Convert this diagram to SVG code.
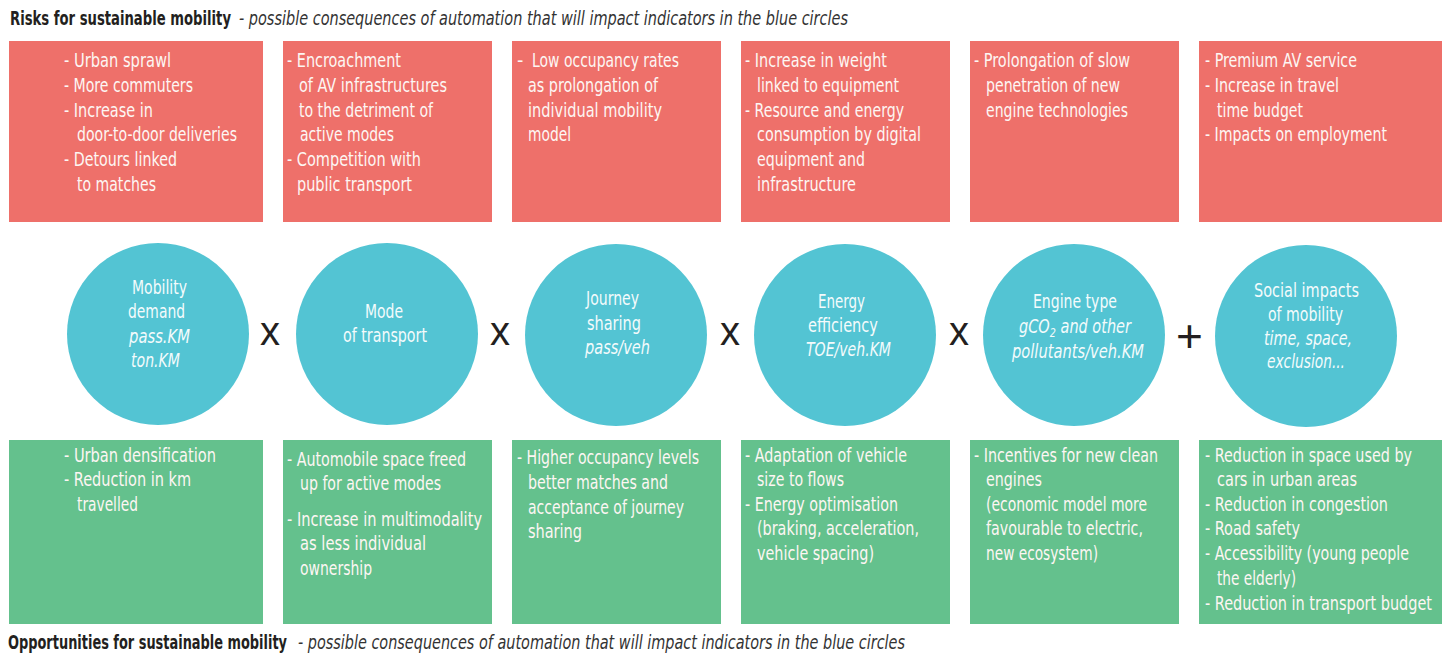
<svg xmlns="http://www.w3.org/2000/svg" width="1450" height="655" viewBox="0 0 1450 655">
<style>
text{font-family:"Liberation Sans Narrow","DejaVu Sans Condensed","Liberation Sans",sans-serif;}
.t{font-size:19.5px;fill:#fdf6f3;}
.c{font-size:19.5px;fill:#f4fbfc;}
.i{font-style:italic;}
.red{fill:#ee706a;}
.grn{fill:#64c18d;}
.blu{fill:#53c4d3;}
.op{font-family:"Liberation Sans",sans-serif;font-size:40px;fill:#231f20;}
.hb{font-size:19px;font-weight:bold;fill:#231f20;}
.hi{font-size:19px;font-style:italic;fill:#333333;}
</style>
<g id="title-top">
<text class="hb" x="10" y="25" textLength="221" lengthAdjust="spacingAndGlyphs">Risks for sustainable mobility</text>
<text class="hi" x="239" y="25" textLength="609" lengthAdjust="spacingAndGlyphs">- possible consequences of automation that will impact indicators in the blue circles</text>
</g>
<g id="risk1">
<rect class="red" x="9" y="41" width="254" height="181"/>
<text class="t" x="64" y="67" textLength="107" lengthAdjust="spacingAndGlyphs">- Urban sprawl</text>
<text class="t" x="64" y="92" textLength="129" lengthAdjust="spacingAndGlyphs">- More commuters</text>
<text class="t" x="64" y="117" textLength="89" lengthAdjust="spacingAndGlyphs">- Increase in</text>
<text class="t" x="77" y="141" textLength="160" lengthAdjust="spacingAndGlyphs">door-to-door deliveries</text>
<text class="t" x="64" y="166" textLength="113" lengthAdjust="spacingAndGlyphs">- Detours linked</text>
<text class="t" x="77" y="191" textLength="79" lengthAdjust="spacingAndGlyphs">to matches</text>
</g>
<g id="risk2">
<rect class="red" x="283" y="41" width="209" height="181"/>
<text class="t" x="287" y="67" textLength="114" lengthAdjust="spacingAndGlyphs">- Encroachment</text>
<text class="t" x="299" y="92" textLength="148" lengthAdjust="spacingAndGlyphs">of AV infrastructures</text>
<text class="t" x="299" y="117" textLength="134" lengthAdjust="spacingAndGlyphs">to the detriment of</text>
<text class="t" x="300" y="141" textLength="94" lengthAdjust="spacingAndGlyphs">active modes</text>
<text class="t" x="287" y="166" textLength="134" lengthAdjust="spacingAndGlyphs">- Competition with</text>
<text class="t" x="297" y="191" textLength="115" lengthAdjust="spacingAndGlyphs">public transport</text>
</g>
<g id="risk3">
<rect class="red" x="512" y="41" width="209" height="181"/>
<text class="t" x="517" y="67">-</text>
<text class="t" x="532" y="67" textLength="147" lengthAdjust="spacingAndGlyphs">Low occupancy rates</text>
<text class="t" x="528" y="92" textLength="130" lengthAdjust="spacingAndGlyphs">as prolongation of</text>
<text class="t" x="528" y="117" textLength="134" lengthAdjust="spacingAndGlyphs">individual mobility</text>
<text class="t" x="528" y="141" textLength="43" lengthAdjust="spacingAndGlyphs">model</text>
</g>
<g id="risk4">
<rect class="red" x="741" y="41" width="209" height="181"/>
<text class="t" x="745" y="67" textLength="142" lengthAdjust="spacingAndGlyphs">- Increase in weight</text>
<text class="t" x="757" y="92" textLength="142" lengthAdjust="spacingAndGlyphs">linked to equipment</text>
<text class="t" x="745" y="117" textLength="159" lengthAdjust="spacingAndGlyphs">- Resource and energy</text>
<text class="t" x="757" y="141" textLength="164" lengthAdjust="spacingAndGlyphs">consumption by digital</text>
<text class="t" x="757" y="166" textLength="108" lengthAdjust="spacingAndGlyphs">equipment and</text>
<text class="t" x="757" y="191" textLength="99" lengthAdjust="spacingAndGlyphs">infrastructure</text>
</g>
<g id="risk5">
<rect class="red" x="970" y="41" width="209" height="181"/>
<text class="t" x="974" y="67" textLength="156" lengthAdjust="spacingAndGlyphs">- Prolongation of slow</text>
<text class="t" x="986" y="92" textLength="134" lengthAdjust="spacingAndGlyphs">penetration of new</text>
<text class="t" x="986" y="117" textLength="142" lengthAdjust="spacingAndGlyphs">engine technologies</text>
</g>
<g id="risk6">
<rect class="red" x="1199" y="41" width="243" height="181"/>
<text class="t" x="1205" y="67" textLength="152" lengthAdjust="spacingAndGlyphs">- Premium AV service</text>
<text class="t" x="1205" y="92" textLength="134" lengthAdjust="spacingAndGlyphs">- Increase in travel</text>
<text class="t" x="1217" y="117" textLength="86" lengthAdjust="spacingAndGlyphs">time budget</text>
<text class="t" x="1205" y="141" textLength="182" lengthAdjust="spacingAndGlyphs">- Impacts on employment</text>
</g>
<g id="circle1">
<circle class="blu" cx="158" cy="334" r="91"/>
<text class="c" x="132" y="294" textLength="55" lengthAdjust="spacingAndGlyphs">Mobility</text>
<text class="c" x="128" y="318" textLength="57" lengthAdjust="spacingAndGlyphs">demand</text>
<text class="c i" x="129" y="343" textLength="61" lengthAdjust="spacingAndGlyphs">pass.KM</text>
<text class="c i" x="131" y="367" textLength="49" lengthAdjust="spacingAndGlyphs">ton.KM</text>
</g>
<g id="circle2">
<circle class="blu" cx="387" cy="334" r="91"/>
<text class="c" x="365" y="318" textLength="38" lengthAdjust="spacingAndGlyphs">Mode</text>
<text class="c" x="343" y="342" textLength="84" lengthAdjust="spacingAndGlyphs">of transport</text>
</g>
<g id="circle3">
<circle class="blu" cx="616" cy="335" r="91"/>
<text class="c" x="586" y="305" textLength="53" lengthAdjust="spacingAndGlyphs">Journey</text>
<text class="c" x="587" y="330" textLength="54" lengthAdjust="spacingAndGlyphs">sharing</text>
<text class="c i" x="585" y="354" textLength="65" lengthAdjust="spacingAndGlyphs">pass/veh</text>
</g>
<g id="circle4">
<circle class="blu" cx="845" cy="335" r="91"/>
<text class="c" x="818" y="308" textLength="47" lengthAdjust="spacingAndGlyphs">Energy</text>
<text class="c" x="808" y="332" textLength="70" lengthAdjust="spacingAndGlyphs">efficiency</text>
<text class="c i" x="806" y="356" textLength="85" lengthAdjust="spacingAndGlyphs">TOE/veh.KM</text>
</g>
<g id="circle5">
<circle class="blu" cx="1074" cy="335" r="91"/>
<text class="c" x="1033" y="308" textLength="84" lengthAdjust="spacingAndGlyphs">Engine type</text>
<text class="c i" x="1019" y="333" textLength="112" lengthAdjust="spacingAndGlyphs">gCO<tspan font-size="13" dy="4">2</tspan><tspan dy="-4"> and other</tspan></text>
<text class="c i" x="1012" y="358" textLength="132" lengthAdjust="spacingAndGlyphs">pollutants/veh.KM</text>
</g>
<g id="circle6">
<circle class="blu" cx="1306" cy="336" r="91"/>
<text class="c" x="1254" y="297" textLength="105" lengthAdjust="spacingAndGlyphs">Social impacts</text>
<text class="c" x="1268" y="321" textLength="75" lengthAdjust="spacingAndGlyphs">of mobility</text>
<text class="c i" x="1264" y="345" textLength="88" lengthAdjust="spacingAndGlyphs">time, space,</text>
<text class="c i" x="1267" y="368" textLength="78" lengthAdjust="spacingAndGlyphs">exclusion...</text>
</g>
<g id="operators">
<text class="op" x="260" y="345">x</text>
<text class="op" x="490" y="345">x</text>
<text class="op" x="720" y="345">x</text>
<text class="op" x="949" y="345">x</text>
<text class="op" x="1176" y="352" style="font-size:46px">+</text>
</g>
<g id="opp1">
<rect class="grn" x="9" y="440" width="254" height="184"/>
<text class="t" x="64" y="462" textLength="152" lengthAdjust="spacingAndGlyphs">- Urban densification</text>
<text class="t" x="64" y="486" textLength="127" lengthAdjust="spacingAndGlyphs">- Reduction in km</text>
<text class="t" x="77" y="511" textLength="61" lengthAdjust="spacingAndGlyphs">travelled</text>
</g>
<g id="opp2">
<rect class="grn" x="283" y="440" width="209" height="184"/>
<text class="t" x="287" y="466" textLength="179" lengthAdjust="spacingAndGlyphs">- Automobile space freed</text>
<text class="t" x="300" y="490" textLength="141" lengthAdjust="spacingAndGlyphs">up for active modes</text>
<text class="t" x="287" y="526" textLength="195" lengthAdjust="spacingAndGlyphs">- Increase in multimodality</text>
<text class="t" x="300" y="550" textLength="126" lengthAdjust="spacingAndGlyphs">as less individual</text>
<text class="t" x="300" y="575" textLength="72" lengthAdjust="spacingAndGlyphs">ownership</text>
</g>
<g id="opp3">
<rect class="grn" x="512" y="440" width="209" height="184"/>
<text class="t" x="517" y="464" textLength="182" lengthAdjust="spacingAndGlyphs">- Higher occupancy levels</text>
<text class="t" x="528" y="489" textLength="140" lengthAdjust="spacingAndGlyphs">better matches and</text>
<text class="t" x="528" y="514" textLength="156" lengthAdjust="spacingAndGlyphs">acceptance of journey</text>
<text class="t" x="528" y="538" textLength="54" lengthAdjust="spacingAndGlyphs">sharing</text>
</g>
<g id="opp4">
<rect class="grn" x="741" y="440" width="209" height="184"/>
<text class="t" x="745" y="462" textLength="162" lengthAdjust="spacingAndGlyphs">- Adaptation of vehicle</text>
<text class="t" x="757" y="486" textLength="87" lengthAdjust="spacingAndGlyphs">size to flows</text>
<text class="t" x="745" y="511" textLength="153" lengthAdjust="spacingAndGlyphs">- Energy optimisation</text>
<text class="t" x="757" y="535" textLength="162" lengthAdjust="spacingAndGlyphs">(braking, acceleration,</text>
<text class="t" x="757" y="560" textLength="117" lengthAdjust="spacingAndGlyphs">vehicle spacing)</text>
</g>
<g id="opp5">
<rect class="grn" x="970" y="440" width="209" height="184"/>
<text class="t" x="974" y="462" textLength="184" lengthAdjust="spacingAndGlyphs">- Incentives for new clean</text>
<text class="t" x="986" y="486" textLength="56" lengthAdjust="spacingAndGlyphs">engines</text>
<text class="t" x="986" y="511" textLength="161" lengthAdjust="spacingAndGlyphs">(economic model more</text>
<text class="t" x="986" y="535" textLength="157" lengthAdjust="spacingAndGlyphs">favourable to electric,</text>
<text class="t" x="986" y="560" textLength="112" lengthAdjust="spacingAndGlyphs">new ecosystem)</text>
</g>
<g id="opp6">
<rect class="grn" x="1199" y="440" width="243" height="184"/>
<text class="t" x="1205" y="462" textLength="207" lengthAdjust="spacingAndGlyphs">- Reduction in space used by</text>
<text class="t" x="1217" y="486" textLength="140" lengthAdjust="spacingAndGlyphs">cars in urban areas</text>
<text class="t" x="1205" y="511" textLength="183" lengthAdjust="spacingAndGlyphs">- Reduction in congestion</text>
<text class="t" x="1205" y="535" textLength="95" lengthAdjust="spacingAndGlyphs">- Road safety</text>
<text class="t" x="1205" y="560" textLength="204" lengthAdjust="spacingAndGlyphs">- Accessibility (young people</text>
<text class="t" x="1217" y="585" textLength="79" lengthAdjust="spacingAndGlyphs">the elderly)</text>
<text class="t" x="1205" y="610" textLength="227" lengthAdjust="spacingAndGlyphs">- Reduction in transport budget</text>
</g>
<g id="title-bottom">
<text class="hb" x="8" y="649" textLength="279" lengthAdjust="spacingAndGlyphs">Opportunities for sustainable mobility</text>
<text class="hi" x="298" y="649" textLength="607" lengthAdjust="spacingAndGlyphs">- possible consequences of automation that will impact indicators in the blue circles</text>
</g>
<g id="connectors"></g>
</svg>
